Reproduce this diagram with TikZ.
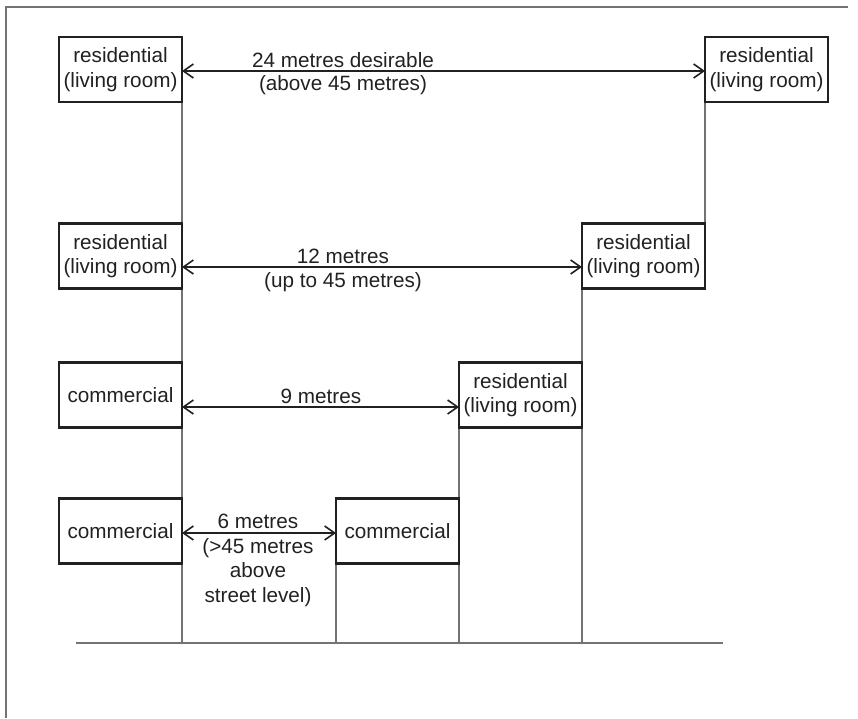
\documentclass[tikz,border=0pt]{standalone}
\usepackage{fontspec}
\setmainfont{Liberation Sans}
\usetikzlibrary{arrows.meta}
\pgfdeclarelayer{edgelayer}
\pgfdeclarelayer{nodelayer}
\pgfsetlayers{edgelayer,nodelayer,main}
\definecolor{ink}{gray}{0.13}
\definecolor{rule}{gray}{0.45}
\tikzset{font=\fontsize{20.7}{24.5}\selectfont}
\tikzstyle{none}=[inner sep=0pt,text=ink,align=center]
\tikzstyle{room}=[draw=ink,line width=2.2pt,fill=white,minimum width=123pt,minimum height=65pt,inner sep=0pt,outer sep=0pt,align=center,text=ink]
\tikzstyle{wall}=[draw=rule,line width=1.2pt]
\tikzstyle{gap}=[draw=ink,line width=1.2pt,>={Straight Barb[length=10pt,width=14pt,line width=1.6pt]},<->]

\begin{document}
\begin{tikzpicture}[x=1pt,y=-1pt]
	\useasboundingbox (0,0) rectangle (858,718);
	\begin{pgfonlayer}{nodelayer}
		\node [style=room] (0) at (120.5, 69.5) {residential\\(living room)};
		\node [style=room] (1) at (766.5, 69.5) {residential\\(living room)};
		\node [style=room] (2) at (120.5, 256) {residential\\(living room)};
		\node [style=room] (3) at (643.5, 256) {residential\\(living room)};
		\node [style=room] (4) at (120.5, 395) {commercial};
		\node [style=room] (5) at (520.5, 395) {residential\\(living room)};
		\node [style=room] (6) at (120.5, 531) {commercial};
		\node [style=room] (7) at (397.5, 531) {commercial};
		\node [style=none, anchor=base] (8) at (343, 67) {24 metres desirable};
		\node [style=none, anchor=north] (9) at (343, 75) {(above 45 metres)};
		\node [style=none, anchor=base] (10) at (343, 263) {12 metres};
		\node [style=none, anchor=north] (11) at (343, 272) {(up to 45 metres)};
		\node [style=none, anchor=base] (12) at (321, 403) {9 metres};
		\node [style=none, anchor=base] (13) at (258, 528) {6 metres};
		\node [style=none, anchor=north] (14) at (258, 538) {(>45 metres\\above\\street level)};
		\coordinate (15) at (76, 643);
		\coordinate (16) at (723, 643);
		\coordinate (17) at (6, 718);
		\coordinate (18) at (6, 7);
		\coordinate (19) at (848, 7);
	\end{pgfonlayer}
	\begin{pgfonlayer}{edgelayer}
		\draw [draw=rule, line width=2pt] (17) to (18) to (19);
		\draw [draw=rule, line width=1.5pt] (15) to (16);
		\draw [style=wall] (0.south east) to (0.south east |- 15);
		\draw [style=wall] (1.south west) to (1.south west |- 3.north);
		\draw [style=wall] (3.south west) to (3.south west |- 15);
		\draw [style=wall] (5.south west) to (5.south west |- 15);
		\draw [style=wall] (7.south west) to (7.south west |- 15);
		\draw [style=gap] ([yshift=-1.5pt]0.east) to ([yshift=-1.5pt]1.west);
		\draw [style=gap] ([yshift=-11pt]2.east) to ([yshift=-11pt]3.west);
		\draw [style=gap] ([yshift=-12pt]4.east) to ([yshift=-12pt]5.west);
		\draw [style=gap] ([yshift=-2pt]6.east) to ([yshift=-2pt]7.west);
	\end{pgfonlayer}
\end{tikzpicture}
\end{document}
